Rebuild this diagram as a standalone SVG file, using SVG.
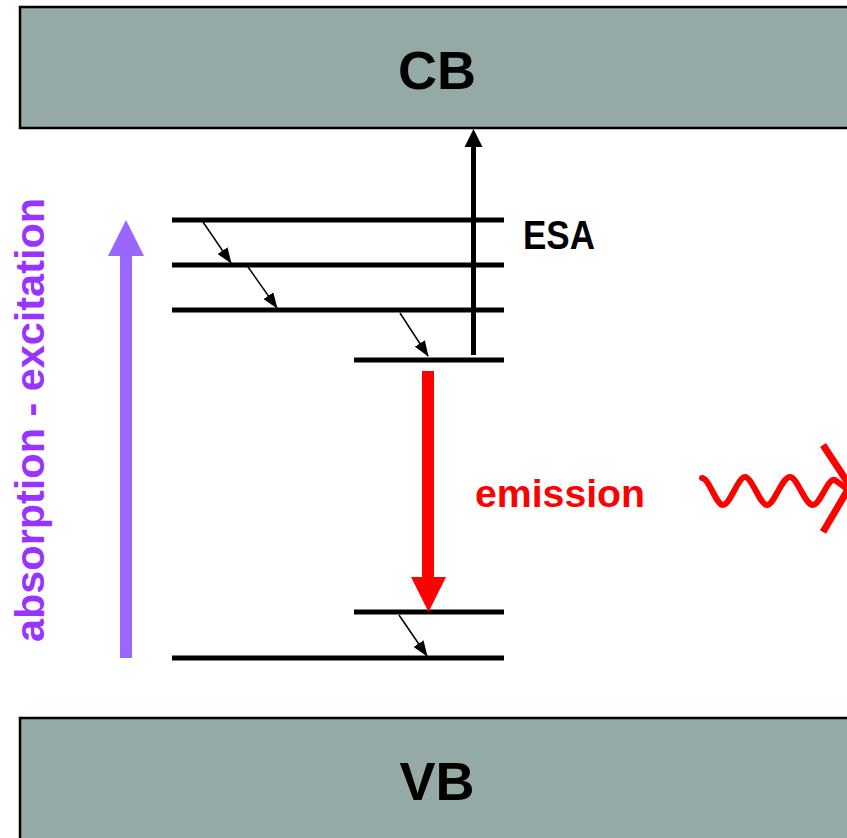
<svg xmlns="http://www.w3.org/2000/svg" width="847" height="838" viewBox="0 0 847 838">
<style>
.band{fill:#95a9a6;stroke:#000;stroke-width:2.5}
.bandtxt{font-family:"Liberation Sans",Arial,sans-serif;font-weight:bold;font-size:54px;fill:#000;text-anchor:middle}
.lvl{stroke:#000;stroke-width:5;fill:none}
.relax{stroke:#000;stroke-width:1.5;fill:none;marker-end:url(#ah)}
.lbl{font-family:"Liberation Sans",Arial,sans-serif;font-weight:bold}
</style>
<defs>
<marker id="ah" markerUnits="userSpaceOnUse" markerWidth="16" markerHeight="12" viewBox="0 0 16 12" refX="15" refY="6" orient="auto">
<path d="M0,0 L16,6 L0,12 Z" fill="#000"/>
</marker>
</defs>
<rect width="847" height="838" fill="#fff"/>
<g id="cb">
<rect class="band" x="20" y="7" width="840" height="121"/>
<text class="bandtxt" x="437" y="89">CB</text>
</g>
<g id="vb">
<rect class="band" x="20" y="718" width="840" height="130"/>
<text class="bandtxt" x="437" y="800">VB</text>
</g>
<g id="levels">
<line class="lvl" x1="172" y1="220" x2="504" y2="220"/>
<line class="lvl" x1="172" y1="265" x2="504" y2="265"/>
<line class="lvl" x1="172" y1="310" x2="504" y2="310"/>
<line class="lvl" x1="354" y1="360" x2="504" y2="360"/>
<line class="lvl" x1="354" y1="612" x2="504" y2="612"/>
<line class="lvl" x1="172" y1="658" x2="504" y2="658"/>
</g>
<g id="connectors">
<line class="relax" x1="203" y1="222" x2="231" y2="263"/>
<line class="relax" x1="248" y1="267" x2="277" y2="308"/>
<line class="relax" x1="400" y1="313" x2="428" y2="356"/>
<line class="relax" x1="399" y1="615" x2="427" y2="656"/>
<g id="esa-arrow">
<line x1="473.5" y1="355" x2="473.5" y2="144" stroke="#000" stroke-width="5"/>
<path d="M473.5,129 L482.5,147 L464.5,147 Z" fill="#000"/>
</g>
<g id="emission-arrow">
<rect x="422" y="371" width="12" height="208" fill="#ff0000"/>
<path d="M411,577 L446,577 L428.5,612 Z" fill="#ff0000"/>
</g>
<g id="absorption-arrow">
<rect x="120" y="254" width="12" height="404" fill="#9966ff"/>
<path d="M126,220 L144,256 L108,256 Z" fill="#9966ff"/>
</g>
<g id="photon">
<path d="M702,478 C709,478 716,505 723,505 C730,505 738,477 745,477 C752,477 760,505 767,505 C774,505 782,477 790,477 C797,477 805,505 813,505 C820,505 828,477 835,480 L850,491" fill="none" stroke="#ff0000" stroke-width="6" stroke-linecap="round"/>
<path d="M823,445 L850,486 L823,532" fill="none" stroke="#ff0000" stroke-width="7"/>
</g>
</g>
<g id="labels">
<text class="lbl" x="523" y="249" font-size="40" textLength="72" lengthAdjust="spacingAndGlyphs" fill="#000">ESA</text>
<text class="lbl" x="475" y="507" font-size="38" textLength="170" lengthAdjust="spacingAndGlyphs" fill="#ff0000">emission</text>
<text class="lbl" transform="translate(44,420) rotate(-90)" text-anchor="middle" font-size="41" textLength="444" lengthAdjust="spacingAndGlyphs" fill="#9933ff">absorption - excitation</text>
</g>
</svg>
